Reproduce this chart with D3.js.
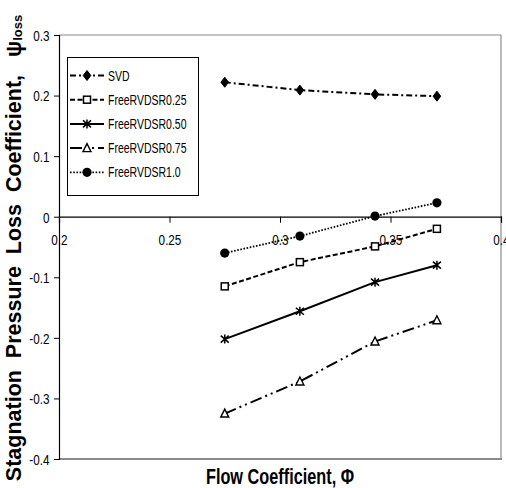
<!DOCTYPE html>
<html>
<head>
<meta charset="utf-8">
<script src="https://cdn.jsdelivr.net/npm/d3@7/dist/d3.min.js"></script>
<style>
  html, body { margin: 0; padding: 0; background: #fff; }
  svg { display: block; }
  text { font-family: "Liberation Sans", Arial, sans-serif; fill: #000; }
</style>
</head>
<body>
<svg id="chart" width="506" height="488"></svg>
<script>
// ---- data ----
const phi = [0.275, 0.309, 0.343, 0.371];
const seriesNames = ["SVD", "FreeRVDSR0.25", "FreeRVDSR0.50", "FreeRVDSR0.75", "FreeRVDSR1.0"];
const svd     = [0.222, 0.209, 0.202, 0.199];
const r025    = [-0.115, -0.075, -0.049, -0.020];
const r050    = [-0.202, -0.156, -0.108, -0.080];
const r075    = [-0.325, -0.272, -0.206, -0.171];
const r100    = [-0.060, -0.032, 0.001, 0.023];
const xTicks = [0.2, 0.25, 0.3, 0.35, 0.4];
const yTicks = [0.3, 0.2, 0.1, 0, -0.1, -0.2, -0.3, -0.4];
const xTitle = "Flow Coefficient, \u03A6";
const yTitleMain = "Stagnation  Pressure  Loss  Coefficient,   \u03C8";
const yTitleSub = "loss";

const allValues = [svd, r025, r050, r075, r100];
const styles = [
  { dash: "6,3,2,3", marker: "diamond" },
  { dash: "5,2.5", marker: "square" },
  { dash: null, marker: "star" },
  { dash: "12,4,2,4,2,4", marker: "triangle" },
  { dash: "1.6,1.6", marker: "circle" }
];

const svg = d3.select("#chart");
const L = 59, R = 501, T = 35, B = 459;
const x = d3.scaleLinear().domain([0.2, 0.4]).range([L, R]);
const y = d3.scaleLinear().domain([-0.4, 0.3]).range([B, T]);

// frame
svg.append("line").attr("x1", L).attr("x2", R).attr("y1", T).attr("y2", T)
  .attr("stroke", "#8a8a8a").attr("stroke-width", 1.2);
svg.append("line").attr("x1", R).attr("x2", R).attr("y1", T).attr("y2", B)
  .attr("stroke", "#8a8a8a").attr("stroke-width", 1.2);
svg.append("line").attr("x1", L).attr("x2", R + 1).attr("y1", B).attr("y2", B)
  .attr("stroke", "#8a8a8a").attr("stroke-width", 2);

// y axis
const yAxis = svg.append("g").attr("transform", `translate(${L},0)`)
  .call(d3.axisLeft(y).tickValues(yTicks).tickSize(5).tickFormat(d => String(+d.toFixed(1))));
yAxis.select(".domain").attr("stroke", "#000").attr("stroke-width", 1.2);
yAxis.selectAll(".tick line").attr("stroke", "#000").attr("stroke-width", 1);
yAxis.selectAll(".tick text")
  .attr("font-size", 15).attr("font-family", "Liberation Sans, Arial, sans-serif")
  .attr("x", null).attr("dy", null)
  .attr("transform", "translate(-9.5,5.3) scale(0.78,1)")
  .attr("text-anchor", "end");

// x axis at zero
const xAxis = svg.append("g").attr("transform", `translate(0,${y(0)})`)
  .call(d3.axisBottom(x).tickValues(xTicks).tickSize(6).tickFormat(d => String(+d.toFixed(2))));
xAxis.select(".domain").attr("stroke", "#000").attr("stroke-width", 1.2);
xAxis.selectAll(".tick line").attr("stroke", "#000").attr("stroke-width", 1);
xAxis.selectAll(".tick text")
  .attr("font-size", 15).attr("font-family", "Liberation Sans, Arial, sans-serif")
  .attr("y", null).attr("dy", null)
  .attr("transform", "translate(0,28.5) scale(0.78,1)")
  .attr("text-anchor", "middle");

// marker drawing
function drawMarker(g, type, cx, cy) {
  if (type === "diamond") {
    g.append("path").attr("d", `M${cx},${cy-5}L${cx+3.8},${cy}L${cx},${cy+5}L${cx-3.8},${cy}Z`)
      .attr("fill", "#000").attr("stroke", "#000").attr("stroke-width", 1);
  } else if (type === "square") {
    g.append("rect").attr("x", cx - 3.5).attr("y", cy - 3.5).attr("width", 7).attr("height", 7)
      .attr("fill", "#fff").attr("stroke", "#000").attr("stroke-width", 1.5);
  } else if (type === "star") {
    g.append("path").attr("d",
      `M${cx},${cy-4.5}L${cx},${cy+4.5}M${cx-4},${cy-3.5}L${cx+4},${cy+3.5}M${cx-4},${cy+3.5}L${cx+4},${cy-3.5}`)
      .attr("fill", "none").attr("stroke", "#000").attr("stroke-width", 1.5);
  } else if (type === "triangle") {
    g.append("path").attr("d", `M${cx},${cy-4.5}L${cx+4},${cy+3.5}L${cx-4},${cy+3.5}Z`)
      .attr("fill", "#fff").attr("stroke", "#000").attr("stroke-width", 1.4);
  } else if (type === "circle") {
    g.append("circle").attr("cx", cx).attr("cy", cy).attr("r", 4.6).attr("fill", "#000");
  }
}

// series
const line = d3.line().x((d, i) => x(phi[i])).y(d => y(d));
allValues.forEach((vals, si) => {
  const g = svg.append("g");
  g.append("path").attr("d", line(vals))
    .attr("fill", "none").attr("stroke", "#000")
    .attr("stroke-width", si === 4 ? 1.8 : 2)
    .attr("stroke-dasharray", styles[si].dash);
  vals.forEach((v, i) => drawMarker(g, styles[si].marker, x(phi[i]), y(v)));
});

// legend
const lg = svg.append("g");
lg.append("rect").attr("x", 67.5).attr("y", 57.5).attr("width", 131).attr("height", 138)
  .attr("fill", "#fff").attr("stroke", "#000").attr("stroke-width", 1);
seriesNames.forEach((name, i) => {
  const ly = 75.5 + i * 24.2;
  lg.append("line").attr("x1", 70).attr("x2", 104).attr("y1", ly).attr("y2", ly)
    .attr("stroke", "#000").attr("stroke-width", i === 4 ? 1.8 : 2)
    .attr("stroke-dasharray", styles[i].dash);
  drawMarker(lg, styles[i].marker, 87, ly);
  lg.append("text").text(name)
    .attr("font-size", 14)
    .attr("transform", `translate(108,${ly + 5}) scale(0.75,1)`);
});

// x title
svg.append("text").text(xTitle)
  .attr("font-size", 22).attr("font-weight", "bold")
  .attr("text-anchor", "middle")
  .attr("transform", `translate(280,484) scale(0.74,1)`);

// y title
const yt = svg.append("text")
  .attr("font-size", 21.5).attr("font-weight", "bold")
  .attr("text-anchor", "middle")
  .attr("xml:space", "preserve")
  .style("white-space", "pre")
  .attr("transform", `translate(20.5,248) rotate(-90)`);
yt.append("tspan").text(yTitleMain);
yt.append("tspan").text(yTitleSub).attr("font-size", 13).attr("dy", 1);
</script>
</body>
</html>
